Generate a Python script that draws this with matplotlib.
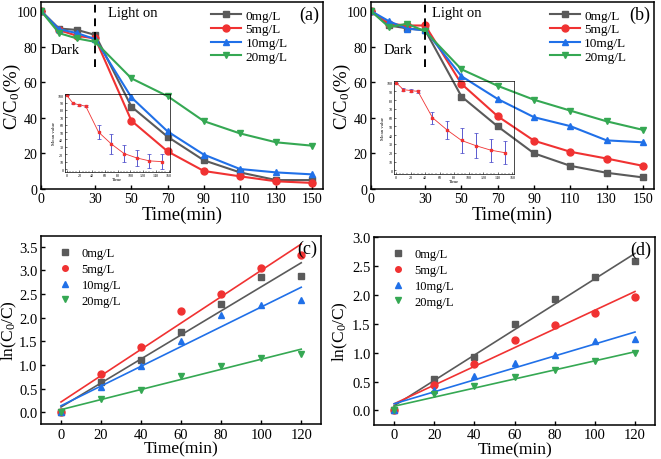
import numpy as np
import matplotlib
matplotlib.use('Agg')
import matplotlib.pyplot as plt
from matplotlib.ticker import MultipleLocator, AutoMinorLocator, FormatStrFormatter

plt.rcParams['font.family'] = ['Liberation Serif', 'DejaVu Serif']
plt.rcParams['mathtext.fontset'] = 'custom'
plt.rcParams['mathtext.rm'] = 'Liberation Serif'
plt.rcParams['mathtext.it'] = 'Liberation Serif:italic'
plt.rcParams['mathtext.default'] = 'regular'

# ---------------- data ----------------
labels = ['0mg/L', '5mg/L', '10mg/L', '20mg/L']
time_ab = [0, 10, 20, 30, 50, 70, 90, 110, 130, 150]
xticks_ab = [0, 30, 50, 70, 90, 110, 130, 150]

a_0 = [100, 90.1, 89.3, 86.5, 46.2, 29.3, 16.1, 9.3, 5.0, 5.0]
a_5 = [100, 89.2, 86.0, 84.5, 38.3, 21.1, 10.1, 7.1, 4.3, 3.4]
a_10 = [100, 89.7, 87.5, 84.1, 51.4, 32.3, 19.3, 11.2, 9.3, 8.2]
a_20 = [100, 87.5, 84.5, 82.6, 62.1, 52.1, 38.1, 31.2, 26.2, 24.3]

b_0 = [100, 91.8, 90.2, 89.1, 51.9, 35.1, 20.0, 13.0, 9.1, 6.5]
b_5 = [100, 92.8, 91.8, 91.8, 59.0, 40.8, 27.1, 20.9, 17.1, 13.0]
b_10 = [100, 94.2, 90.0, 89.1, 63.3, 50.5, 40.3, 35.3, 27.3, 26.2]
b_20 = [100, 90.9, 92.8, 88.5, 67.2, 57.9, 50.1, 44.0, 38.0, 33.2]

# insets: mean value with error bars
inset_a_mean = [100, 89, 87, 85, 50, 34, 21, 15, 11, 10]
inset_a_err = [0, 1, 1.5, 1.5, 10, 13, 12, 11, 10, 10]
inset_b_mean = [100, 92, 91, 90, 60, 46, 34, 28, 23, 20]
inset_b_err = [0, 1.5, 1.2, 1.5, 7, 10, 14, 14, 13, 13]

# kinetics
time_cd = [0, 20, 40, 60, 80, 100, 120]
c_0 = [0, 0.64, 1.10, 1.70, 2.28, 2.85, 2.88]
c_5 = [0, 0.80, 1.39, 2.14, 2.50, 3.06, 3.32]
c_10 = [0, 0.53, 0.98, 1.51, 2.06, 2.27, 2.38]
c_20 = [0, 0.28, 0.46, 0.76, 0.97, 1.15, 1.24]

d_0 = [0, 0.54, 0.93, 1.50, 1.92, 2.30, 2.59]
d_5 = [0, 0.44, 0.81, 1.22, 1.48, 1.69, 1.96]
d_10 = [0, 0.35, 0.59, 0.82, 0.95, 1.20, 1.24]
d_20 = [0, 0.28, 0.42, 0.57, 0.70, 0.85, 0.99]

colors = ['#5a5a5a', '#f03232', '#2070e8', '#35a853']
markers = ['s', 'o', '^', 'v']

fig = plt.figure(figsize=(6.61, 4.60), dpi=100)


def style_axes(ax, fs=10):
    for sp in ax.spines.values():
        sp.set_linewidth(1.1)
    ax.tick_params(direction='in', labelsize=fs, length=3, width=1,
                   top=False, right=False, pad=2.5)


def panel_ab(rect, series, tag, legx, lightx, darkx, inset_rect, imean, ierr):
    ax = fig.add_axes(rect)
    for s, c, m, lab in zip(series, colors, markers, labels):
        ax.plot(time_ab, s, color=c, marker=m, markersize=5, lw=1.5, label=lab)
    ax.set_xlim(0, 156)
    ax.set_ylim(0, 105)
    ax.set_xticks(xticks_ab)
    ax.yaxis.set_major_locator(MultipleLocator(20))
    style_axes(ax, 10)
    ax.axvline(30, ymin=0.65, ymax=1.0, color='black', ls=(0, (4, 3)), lw=1.4)
    ax.set_xlabel('Time(min)', fontsize=13.5, labelpad=0)
    ax.set_ylabel('C/C$_0$(%)', fontsize=13.5)
    ax.yaxis.set_label_coords(-0.062, 0.5)
    ax.text(0.95, 0.935, tag, transform=ax.transAxes, fontsize=13,
            ha='center', va='center')
    ax.text(lightx, 0.945, 'Light on', transform=ax.transAxes, fontsize=10.5,
            ha='left', va='center')
    ax.text(darkx, 0.745, 'Dark', transform=ax.transAxes, fontsize=10.5,
            ha='left', va='center')
    ax.legend(loc='upper left', bbox_to_anchor=(legx, 1.01), frameon=False,
              fontsize=9.5, handlelength=2.3, handletextpad=0.3,
              labelspacing=0.12, borderpad=0.2)

    ins = fig.add_axes(inset_rect)
    ins.errorbar(time_ab, imean, yerr=ierr, color='#f03232', lw=0.6,
                 marker='s', markersize=1.5, ecolor='#4040c8', elinewidth=0.6,
                 capsize=1.2, capthick=0.5)
    ins.set_xlim(-3, 162)
    ins.set_ylim(-4, 102)
    ins.set_xticks(np.arange(0, 161, 20))
    ins.set_yticks(np.arange(0, 101, 10))
    ins.xaxis.set_minor_locator(AutoMinorLocator(4))
    ins.tick_params(direction='in', labelsize=3, length=1.5, width=0.4, pad=1)
    ins.tick_params(which='minor', direction='in', length=1, width=0.3)
    for sp in ins.spines.values():
        sp.set_linewidth(0.5)
    ins.set_xlabel('Time', fontsize=3.5, labelpad=0)
    ins.set_ylabel('Mean value', fontsize=3.5, labelpad=1)
    ins.patch.set_alpha(0)
    return ax


panel_ab([0.062, 0.587, 0.427, 0.4065], [a_0, a_5, a_10, a_20], '(a)',
         0.57, 0.236, 0.035, [0.098, 0.624, 0.159, 0.170],
         inset_a_mean, inset_a_err)
panel_ab([0.561, 0.587, 0.428, 0.4065], [b_0, b_5, b_10, b_20], '(b)',
         0.60, 0.218, 0.0435, [0.596, 0.620, 0.1815, 0.202],
         inset_b_mean, inset_b_err)


def panel_cd(rect, series, tag, ylim, ytop, ylab_x):
    ax = fig.add_axes(rect)
    t = np.array(time_cd, dtype=float)
    for s, c, m, lab in zip(series, colors, markers, labels):
        ax.plot(t, s, ls='none', color=c, marker=m, markersize=5, label=lab)
        k, b0 = np.polyfit(t, s, 1)
        ax.plot(t[[0, -1]], k * t[[0, -1]] + b0, color=c, lw=1.2)
    ax.set_xlim(-10, 130)
    ax.set_ylim(*ylim)
    ax.set_xticks(time_cd)
    ax.set_yticks(np.arange(0, ytop + 0.01, 0.5))
    ax.yaxis.set_major_formatter(FormatStrFormatter('%.1f'))
    style_axes(ax, 10.5)
    ax.set_xlabel('Time(min)', fontsize=12.5, labelpad=0)
    ax.set_ylabel('ln(C$_0$/C)', fontsize=12.5)
    ax.yaxis.set_label_coords(ylab_x, 0.5)
    ax.text(0.95, 0.935, tag, transform=ax.transAxes, fontsize=13,
            ha='center', va='center')
    ax.legend(loc='upper left', bbox_to_anchor=(0.02, 0.985), frameon=False,
              fontsize=9, handlelength=1.5, handletextpad=0.6,
              labelspacing=0.3, borderpad=0.2, markerscale=0.8)
    return ax


panel_cd([0.062, 0.076, 0.424, 0.409], [c_0, c_5, c_10, c_20], '(c)',
         (-0.25, 3.73), 3.5, -0.08)
panel_cd([0.566, 0.074, 0.425, 0.409], [d_0, d_5, d_10, d_20], '(d)',
         (-0.25, 3.0), 3.0, -0.085)

fig.savefig('out.png', dpi=100)
